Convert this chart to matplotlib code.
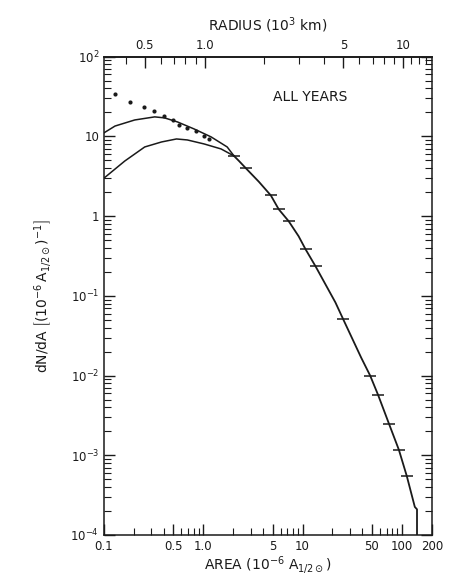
import matplotlib
matplotlib.use('Agg')
import matplotlib.pyplot as plt
import numpy as np
from matplotlib.ticker import FixedLocator, FixedFormatter, NullFormatter

# data (area in 1e-6 A_1/2sun, dN/dA)
dots_area = [0.129, 0.182, 0.251, 0.316, 0.398, 0.49, 0.575, 0.69, 0.85, 1.02, 1.15]
dots_dnda = [34.3, 27.4, 23.5, 20.9, 18.1, 16.1, 14.0, 12.8, 11.7, 10.1, 9.3]

upper_area = [0.1, 0.129, 0.204, 0.324, 0.407, 0.55, 0.81, 1.2, 1.74, 2.04]
upper_dnda = [11.1, 13.5, 16.1, 17.6, 17.1, 15.2, 12.4, 9.86, 7.38, 5.69]

lower_area = [0.1, 0.162, 0.257, 0.38, 0.537, 0.69, 1.02, 1.51, 2.04]
lower_dnda = [3.0, 4.92, 7.38, 8.53, 9.3, 9.04, 8.05, 6.97, 5.69]

main_area = [2.04, 2.29, 2.69, 3.63, 4.79, 5.75, 7.24, 9.12, 10.7, 13.5, 21.4, 25.7,
             38.9, 47.9, 57.5, 74.1, 93.3, 112, 135, 142, 142]
main_dnda = [5.69, 4.92, 3.98, 2.7, 1.82, 1.22, 0.865, 0.56, 0.385, 0.235, 0.0828, 0.0506,
             0.0168, 0.0100, 0.00575, 0.00249, 0.00117, 5.5e-4, 2.25e-4, 2.1e-4, 1e-4]

bin_area = [2.04, 2.69, 4.79, 5.75, 7.24, 10.7, 13.5, 25.7, 47.9, 57.5, 74.1, 93.3, 112]
bin_dnda = [5.69, 3.98, 1.82, 1.22, 0.865, 0.385, 0.235, 0.0506, 0.0100, 0.00575, 0.00249, 0.00117, 5.5e-4]

xticks = [0.1, 0.5, 1.0, 5, 10, 50, 100, 200]
xticklabels = ['0.1', '0.5', '1.0', '5', '10', '50', '100', '200']
yticks = [1e-4, 1e-3, 1e-2, 1e-1, 1, 10, 100]
yticklabels = [r'$10^{-4}$', r'$10^{-3}$', r'$10^{-2}$', r'$10^{-1}$', '1', '10', r'$10^{2}$']
rticks = [0.5, 1.0, 5, 10]
rticklabels = ['0.5', '1.0', '5', '10']

ink = '#1a1a1a'

fig = plt.figure(figsize=(4.61, 5.79), dpi=100)
ax = fig.add_axes([0.2256, 0.076, 0.711, 0.826])
ax.set_xscale('log')
ax.set_yscale('log')
ax.set_xlim(0.1, 200)
ax.set_ylim(1e-4, 1e2)

ax.plot(dots_area, dots_dnda, 'o', color=ink, ms=3, mew=0)
ax.plot(upper_area, upper_dnda, '-', color=ink, lw=1.1)
ax.plot(lower_area, lower_dnda, '-', color=ink, lw=1.1)
ax.plot(main_area, main_dnda, '-', color=ink, lw=1.3)
ax.plot(bin_area, bin_dnda, '_', color=ink, ms=9, mew=1.1)

# ticks
ax.xaxis.set_major_locator(FixedLocator(xticks))
ax.xaxis.set_major_formatter(FixedFormatter(xticklabels))
xminor = [m * d for d in [0.1, 1, 10, 100] for m in range(2, 10) if m != 5 and m * d < 200]
ax.xaxis.set_minor_locator(FixedLocator(xminor))
ax.xaxis.set_minor_formatter(NullFormatter())
ax.yaxis.set_major_locator(FixedLocator(yticks))
ax.yaxis.set_major_formatter(FixedFormatter(yticklabels))
yminor = [m * d for d in [1e-4, 1e-3, 1e-2, 1e-1, 1, 10] for m in range(2, 10)]
ax.yaxis.set_minor_locator(FixedLocator(yminor))
ax.yaxis.set_minor_formatter(NullFormatter())
ax.tick_params(which='both', direction='in', bottom=True, top=False, left=True, right=True,
               colors=ink, labelsize=8.5)
ax.tick_params(which='major', length=8, width=1)
ax.tick_params(which='minor', length=5, width=0.8)

for s in ax.spines.values():
    s.set_color(ink)
    s.set_linewidth(1.1)

# radius axis on top: r = 0.984 sqrt(A)  (10^3 km)
sec = ax.secondary_xaxis('top', functions=(lambda a: 0.984 * np.sqrt(np.clip(a, 1e-9, None)),
                                            lambda r: (np.asarray(r) / 0.984) ** 2))
sec.xaxis.set_major_locator(FixedLocator(rticks))
sec.xaxis.set_major_formatter(FixedFormatter(rticklabels))
rminor = [0.4, 0.6, 0.7, 0.8, 0.9, 2, 3, 4, 6, 7, 8, 9, 11, 12, 13]
sec.xaxis.set_minor_locator(FixedLocator(rminor))
sec.xaxis.set_minor_formatter(NullFormatter())
sec.tick_params(which='both', direction='in', colors=ink, labelsize=8.5)
sec.tick_params(which='major', length=8, width=1)
sec.tick_params(which='minor', length=5, width=0.8)
sec.spines['top'].set_linewidth(1.1)
sec.set_xlabel(r'RADIUS (10$^3$ km)', fontsize=10, labelpad=6, color=ink)

ax.set_xlabel(r'AREA (10$^{-6}$ A$_{1/2\odot}$)', fontsize=10, labelpad=1, color=ink)
ax.set_ylabel(r'dN/dA $\left[(10^{-6}\,\mathrm{A}_{1/2\odot})^{-1}\right]$', fontsize=10,
              labelpad=12, color=ink)

ax.text(0.63, 0.915, 'ALL YEARS', transform=ax.transAxes, ha='center', va='center',
        fontsize=10, color=ink)

fig.savefig('out.png', dpi=100)
